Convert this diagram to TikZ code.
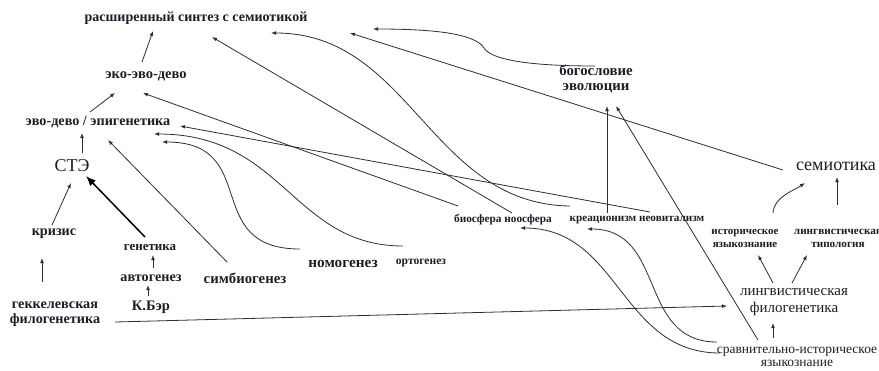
\documentclass[tikz,border=0pt]{standalone}
\usepackage{fontspec}
\setmainfont{Liberation Serif}
\usetikzlibrary{arrows.meta}
\definecolor{ink}{RGB}{28,28,40}
\definecolor{wire}{RGB}{45,45,50}
\begin{document}
\begin{tikzpicture}[x=1pt,y=-1pt,
  lbl/.style={inner sep=0pt, text=ink, align=center},
  fb/.style={font=\fontsize{#1}{#1}\selectfont\bfseries},
  fr/.style={font=\fontsize{#1}{#1}\selectfont},
  arr/.style={draw=wire, line width=0.8pt, -{Latex[length=5pt,width=3.8pt]}},
  bigarr/.style={draw=black, line width=1.5pt, -{Latex[length=10pt,width=8pt]}},
]
\useasboundingbox (0,0) rectangle (879,370);

% --- labels ---
\node[lbl,fb=14] (synth) at (196,18) {расширенный синтез с семиотикой};
\node[lbl,fb=14.5] (eed) at (146,76) {эко-эво-дево};
\node[lbl,fb=14.2] (evo) at (98,122) {эво-дево / эпигенетика};
\node[lbl,fr=18] (ste)   at (72,166) {СТЭ};
\node[lbl,fb=14.2] (kriz) at (54,234) {кризис};
\node[lbl,fb=13] (gen)   at (150,248) {генетика};
\node[lbl,fb=14.2] (avto) at (151,278) {автогенез};
\node[lbl,fb=14.5] (ber)  at (151,307) {К.Бэр};
\node[lbl,font=\fontsize{14.2}{15}\selectfont\bfseries] (hek) at (55,314) {геккелевская\\филогенетика};
\node[lbl,fb=14.8] (simb) at (245,278) {симбиогенез};
\node[lbl,fb=15.3] (nomo) at (343,264) {номогенез};
\node[lbl,fb=11.6] (orto) at (421,263) {ортогенез};
\node[lbl,fb=11.3] (bios) at (503,220) {биосфера ноосфера};
\node[lbl,fb=11.2] (krea) at (637,220) {креационизм неовитализм};
\node[lbl,font=\fontsize{14.8}{15}\selectfont\bfseries] (bog) at (596,79) {богословие\\эволюции};
\node[lbl,fr=18] (semi)  at (836,166) {семиотика};
\node[lbl,font=\fontsize{11}{13}\selectfont\bfseries] (hist) at (745,238) {историческое\\языкознание};
\node[lbl,font=\fontsize{11.2}{13}\selectfont\bfseries] (tipo) at (838,238) {лингвистическая\\типология};
\node[lbl,font=\fontsize{15}{17}\selectfont] (lphy) at (794,302) {лингвистическая\\филогенетика};
\node[lbl,font=\fontsize{13.5}{13}\selectfont] (srav) at (797,357) {сравнительно-историческое\\языкознание};

% --- straight connectors ---
\draw[arr] ([shift={(-4,-14)}]eed.center) -- ([shift={(-43,13)}]synth.center);
\draw[arr] ([shift={(-8,-10)}]evo.center) -- ([shift={(-31,17)}]eed.center);
\draw[arr] ([shift={(10,-13)}]ste.center) -- ([shift={(-16,11)}]evo.center);
\draw[arr] ([shift={(-2,-9)}]kriz.center) -- ([shift={(-1,17)}]ste.center);
\draw[bigarr] ([shift={(-5,-11)}]gen.center) -- ([shift={(14,10)}]ste.center);
\draw[arr] ([shift={(-13,-32)}]hek.center) -- ([shift={(-12,24)}]kriz.center);
\draw[arr] ([shift={(2,-10)}]avto.center) -- ([shift={(3,7)}]gen.center);
\draw[arr] ([shift={(-3,-11)}]ber.center) -- ([shift={(-3,7)}]avto.center);
\draw[arr] ([shift={(-18,-16)}]simb.center) -- ([shift={(10,18)}]evo.center);
\draw[arr] ([shift={(13,-8)}]krea.center) -- ([shift={(82,4)}]evo.center);
\draw[arr] ([shift={(-45,-14)}]bios.center) -- ([shift={(-3,17)}]eed.center);
\draw[arr] ([shift={(9,-7)}]bios.center) -- ([shift={(16,19)}]synth.center);
\draw[arr] ([shift={(-53,4)}]semi.center) -- ([shift={(154,15)}]synth.center);
\draw[arr] ([shift={(-30,-7)}]krea.center) -- ([shift={(11,27)}]bog.center);
\draw[arr] ([shift={(-39,-17)}]srav.center) -- ([shift={(20,27)}]bog.center);
\draw[arr] ([shift={(60,8)}]hek.center) -- ([shift={(-67,4)}]lphy.center);
\draw[arr] ([shift={(-24,-19)}]srav.center) -- ([shift={(-21,21)}]lphy.center);
\draw[arr] ([shift={(-21,-19)}]lphy.center) -- ([shift={(13,17)}]hist.center);
\draw[arr] ([shift={(-2,-19)}]lphy.center) -- ([shift={(-31,17)}]tipo.center);
\draw[arr] ([shift={(-1,-33)}]tipo.center) -- ([shift={(1,11)}]semi.center);

% --- curved connectors ---
\draw[arr] ([shift={(-43,-15)}]nomo.center) .. controls +(-100,0) and +(100,0) .. ([shift={(64,20)}]evo.center);
\draw[arr] ([shift={(-18,-17)}]orto.center) .. controls +(-110,0) and +(130,0) .. ([shift={(56,12)}]evo.center);
\draw[arr] ([shift={(-67,-14)}]krea.center) .. controls +(-140,-2) and +(140,0) .. ([shift={(75,15)}]synth.center);
\draw[arr] ([shift={(-1,-13)}]bog.center) .. controls +(-75,0) and +(6,10) .. ([shift={(-112,-31)}]bog.center)
           .. controls +(-9,-15) and +(57,0) .. ([shift={(177,11)}]synth.center);
\draw[arr] ([shift={(-80,-15)}]srav.center) .. controls +(-80,0) and +(80,0) .. ([shift={(-50,9)}]krea.center);
\draw[arr] ([shift={(-77,-4)}]srav.center) .. controls +(-100,0) and +(100,0) .. ([shift={(17,8)}]bios.center);
\draw[arr] ([shift={(28,-25)}]hist.center) .. controls +(1,-16) and +(-12,8) .. ([shift={(-31,17)}]semi.center);
\end{tikzpicture}
\end{document}
